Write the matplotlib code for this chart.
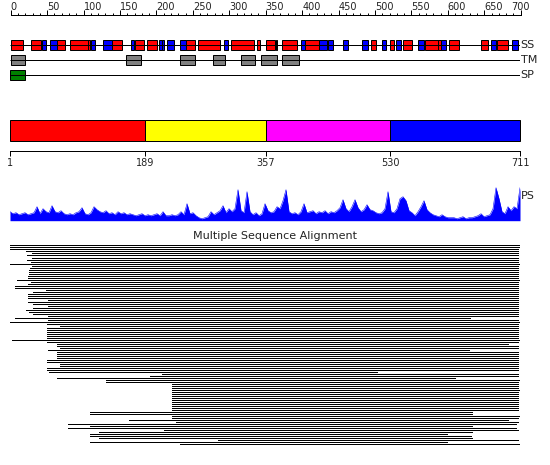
import numpy as np
import matplotlib
matplotlib.use("Agg")
import matplotlib.pyplot as plt

W, H = 550, 465
SEQ_LEN = 711

# secondary structure (residue ranges)
helix_ranges = [(2, 19), (30, 44), (66, 78), (85, 109), (110, 113), (143, 157),
                (175, 188), (192, 206), (246, 258), (263, 294), (308, 341),
                (345, 349), (358, 370), (371, 373), (380, 400), (411, 431),
                (503, 511), (530, 535), (548, 561), (579, 597), (597, 601),
                (612, 626), (657, 667), (679, 694)]
strand_ranges = [(46, 51), (56, 66), (114, 120), (131, 143), (170, 173),
                 (209, 212), (212, 216), (219, 230), (237, 246), (299, 304),
                 (406, 411), (431, 442), (444, 450), (464, 471), (491, 499),
                 (519, 525), (539, 545), (569, 577), (601, 608), (670, 677),
                 (700, 708)]
tm_ranges = [(3, 22), (163, 184), (237, 259), (283, 301), (322, 342),
             (351, 373), (380, 403)]
sp_ranges = [(1, 22)]
track_labels = ["SS", "TM", "SP"]

ruler_ticks = [0, 50, 100, 150, 200, 250, 300, 350, 400, 450, 500, 550, 600, 650, 700]

domain_bounds = [1, 189, 357, 530, 711]
domain_colors = ["#ff0000", "#ffff00", "#ff00ff", "#0000ff"]

# conservation profile (PS), evenly spaced along the sequence
ps_values = [9, 7, 8, 6, 7, 8, 6, 7, 8, 14,
             7, 12, 9, 8, 15, 9, 8, 10, 7, 6,
             7, 6, 8, 9, 13, 7, 6, 8, 14, 11,
             9, 8, 10, 7, 8, 6, 9, 7, 8, 6,
             7, 6, 5, 6, 7, 5, 6, 5, 6, 7,
             5, 9, 5, 5, 6, 5, 6, 9, 6, 17,
             7, 8, 5, 3, 2, 3, 4, 9, 6, 8,
             10, 15, 8, 12, 9, 12, 31, 10, 8, 29,
             9, 6, 8, 5, 7, 17, 10, 8, 9, 14,
             12, 20, 31, 9, 7, 8, 6, 9, 17, 8,
             9, 10, 7, 9, 8, 10, 7, 9, 8, 10,
             13, 21, 12, 9, 14, 21, 13, 9, 11, 16,
             11, 10, 8, 7, 8, 12, 29, 9, 8, 12,
             22, 24, 20, 10, 8, 5, 9, 14, 20, 11,
             8, 6, 5, 4, 6, 4, 3, 3, 3, 2,
             3, 4, 2, 3, 3, 4, 5, 7, 4, 5,
             6, 12, 33, 22, 9, 7, 14, 10, 14, 12,
             33]

# multiple sequence alignment: coverage of each aligned sequence
msa_start = [1, 1, 1, 23, 31, 25, 31, 24, 30, 1,
             31, 29, 28, 27, 27, 26, 26, 11, 30, 26,
             8, 8, 51, 33, 26, 26, 26, 54, 26, 33,
             54, 33, 23, 28, 33, 54, 8, 54, 1, 53,
             71, 53, 53, 53, 53, 53, 53, 4, 53, 67,
             67, 71, 54, 67, 67, 67, 67, 53, 53, 71,
             71, 53, 53, 55, 212, 196, 67, 134, 134, 227,
             227, 227, 227, 227, 227, 227, 227, 227, 227, 227,
             227, 227, 227, 113, 113, 227, 227, 167, 232, 82,
             113, 82, 216, 125, 113, 113, 125, 291, 113, 238]
msa_end = [711, 711, 708, 708, 708, 708, 708, 708, 708, 711,
           708, 708, 708, 708, 708, 708, 708, 711, 708, 708,
           708, 708, 708, 708, 708, 708, 708, 708, 708, 708,
           708, 708, 708, 708, 708, 708, 641, 708, 711, 708,
           708, 708, 708, 708, 708, 708, 708, 711, 708, 694,
           708, 708, 640, 708, 708, 708, 708, 708, 708, 708,
           708, 708, 708, 512, 708, 708, 620, 711, 708, 708,
           708, 708, 709, 708, 708, 708, 708, 708, 708, 708,
           708, 708, 708, 644, 644, 709, 708, 694, 708, 705,
           644, 705, 708, 644, 609, 643, 644, 708, 609, 709]


def px_axes(fig, x0, y0, x1, y1):
    ax = fig.add_axes([x0 / W, 1 - y1 / H, (x1 - x0) / W, (y1 - y0) / H])
    return ax


fig = plt.figure(figsize=(W / 100, H / 100), dpi=100)
fig.patch.set_facecolor("white")
lw = 0.72

# ---- ruler ----
ax = px_axes(fig, 10.7, 0, 520.7, 14.7)
ax.set_xlim(0, 700)
ax.set_ylim(0, 1)
for s in ["top", "left", "right"]:
    ax.spines[s].set_visible(False)
ax.spines["bottom"].set_linewidth(lw)
ax.set_yticks([])
ax.set_xticks(ruler_ticks)
ax.set_xticks(range(0, 701, 10), minor=True)
ax.tick_params(axis="x", which="major", direction="in", length=3.6, width=lw, labelbottom=False)
ax.tick_params(axis="x", which="minor", direction="in", length=1.8, width=lw)
ax.patch.set_alpha(0)
for v in ruler_ticks:
    ha = "center" if v == ruler_ticks[-1] else "left"
    ax.text(v, 0.35, str(v), ha=ha, va="baseline", fontsize=7, color="#222222")

# ---- SS / TM / SP tracks ----
ax = px_axes(fig, 10, 37.5, 520, 82.5)
ax.set_xlim(1, SEQ_LEN)
ax.set_ylim(2.5, -0.5)
ax.axis("off")
ax.hlines([0, 1, 2], 1, SEQ_LEN, color="black", lw=lw)
tracks = [(0, helix_ranges, "#ff0000"), (0, strand_ranges, "#0000ff"),
          (1, tm_ranges, "#808080"), (2, sp_ranges, "#008000")]
for row, ranges, col in tracks:
    for s, e in ranges:
        ax.barh(row, e - s, left=s, height=0.7, color=col, edgecolor="black",
                linewidth=lw, clip_on=False)
for i, lab in enumerate(track_labels):
    ax.text(SEQ_LEN + 1, i, lab, ha="left", va="center", fontsize=8, color="#222222")

# ---- domains ----
ax = px_axes(fig, 10, 117, 520, 150.7)
ax.set_xlim(1, SEQ_LEN)
ax.set_ylim(0, 33.7)
for s in ["top", "left", "right"]:
    ax.spines[s].set_visible(False)
ax.spines["bottom"].set_linewidth(lw)
ax.set_yticks([])
for i, col in enumerate(domain_colors):
    s, e = domain_bounds[i], domain_bounds[i + 1]
    ax.barh(20.35, e - s, left=s, height=20.7, color=col, edgecolor="black",
            linewidth=lw, clip_on=False)
ax.set_xticks(domain_bounds)
ax.set_xticklabels([str(b) for b in domain_bounds])
ax.tick_params(axis="x", direction="out", length=3.6, width=lw, pad=1.5,
               labelsize=7, labelcolor="#222222")
ax.patch.set_alpha(0)

# ---- PS profile ----
ax = px_axes(fig, 10, 186, 520, 220.7)
ps_x = np.linspace(1, SEQ_LEN, len(ps_values))
ax.fill_between(ps_x, 0, ps_values, color="#0000ff", lw=0)
ax.plot(ps_x, ps_values, color="#0000ff", lw=0.4)
ax.set_xlim(1, SEQ_LEN)
ax.set_ylim(0, 34.7)
ax.axis("off")
ax.text(SEQ_LEN + 1, 24.5, "PS", ha="left", va="center", fontsize=8, color="#222222")

# ---- MSA ----
fig.text(0.5, 1 - 235.5 / H, "Multiple Sequence Alignment", ha="center", va="center",
         fontsize=8, color="#222222")
ax = px_axes(fig, 10, 244.5, 520, 444.5)
rows = np.arange(len(msa_start))
ax.hlines(rows, msa_start, msa_end, color="black", lw=0.5, antialiased=False)
ax.set_xlim(1, SEQ_LEN)
ax.set_ylim(len(rows) - 0.5, -0.5)
ax.axis("off")

fig.savefig("out.png", dpi=100)
